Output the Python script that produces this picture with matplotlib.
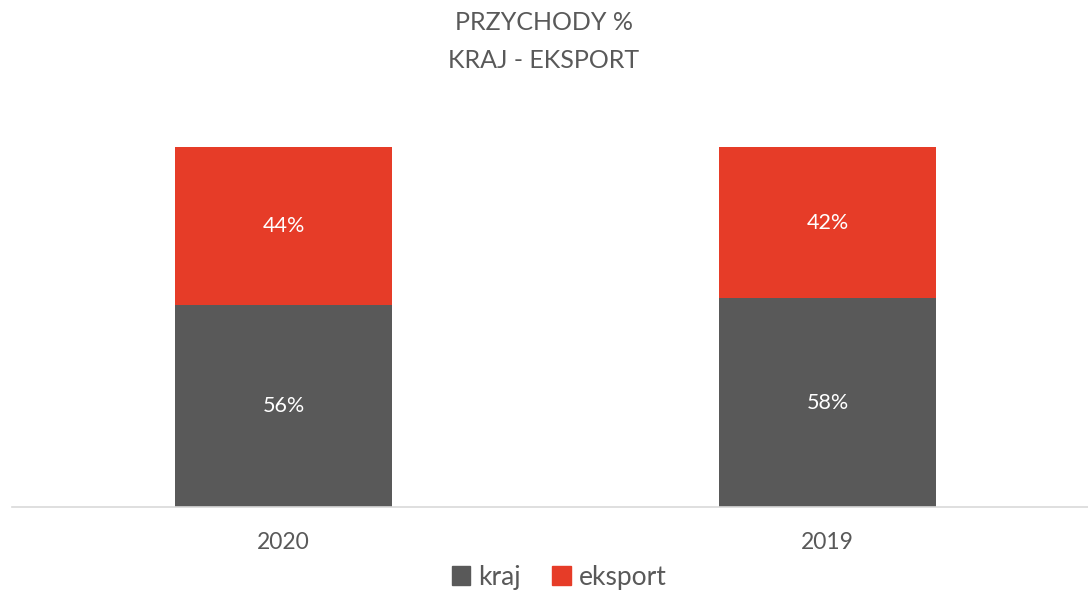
import matplotlib
matplotlib.use("Agg")
import matplotlib.pyplot as plt
from matplotlib.patches import Patch

categories = ["2020", "2019"]
kraj = [56, 58]
eksport = [44, 42]
series_names = ["kraj", "eksport"]
title_lines = ["PRZYCHODY %", "KRAJ - EKSPORT"]

plt.rcParams['font.family'] = ['Lato', 'DejaVu Sans']
W, H = 1088, 592
fig = plt.figure(figsize=(W/100, H/100), dpi=100)
ax = fig.add_axes([11.5/W, (H-507)/H, 1088/W, 360/H])

c_kraj = "#595959"
c_eks = "#E63C28"
txt = "#595959"
x = list(range(len(categories)))
ax.bar(x, kraj, width=0.399, color=c_kraj, linewidth=0)
ax.bar(x, eksport, width=0.399, bottom=kraj, color=c_eks, linewidth=0)
for i in x:
    ax.text(i, kraj[i]/2, f"{kraj[i]}%", ha="center", va="center", color="white", fontsize=15.5)
    ax.text(i, kraj[i] + eksport[i]/2, f"{eksport[i]}%", ha="center", va="center", color="white", fontsize=15.5)

ax.set_xlim(-0.5, 1.5)
ax.set_ylim(0, 100)
ax.set_xticks(x)
ax.set_xticklabels(categories, fontsize=16.5, color=txt)
ax.tick_params(axis="x", length=0, pad=18)
ax.set_yticks([])
for s in ["top", "right", "left"]:
    ax.spines[s].set_visible(False)
ax.spines["bottom"].set_color("#D9D9D9")
ax.spines["bottom"].set_linewidth(1.2)

fig.text(0.5, 1 - 23/H, title_lines[0], ha="center", va="center", fontsize=18, color=txt)
fig.text(0.5, 1 - 60/H, title_lines[1], ha="center", va="center", fontsize=18, color=txt)

handles = [Patch(color=c_kraj), Patch(color=c_eks)]
fig.legend(handles, series_names, loc="center", bbox_to_anchor=(559/W, 1 - 577/H), ncol=2,
           frameon=False, fontsize=19, labelcolor=txt, handlelength=0.7, handleheight=0.7,
           handletextpad=0.3, columnspacing=1.2)

fig.savefig("out.png", dpi=100)
